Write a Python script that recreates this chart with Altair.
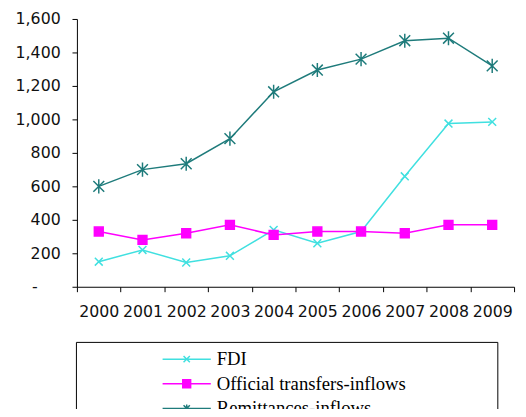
import altair as alt
import pandas as pd

years = [str(y) for y in range(2000, 2010)]
fdi = [150, 220, 145, 185, 340, 260, 330, 660, 975, 985]
official = [330, 280, 320, 370, 310, 330, 330, 320, 370, 370]
remittances = [600, 700, 735, 885, 1165, 1295, 1360, 1470, 1485, 1320]
series = ["FDI", "Official transfers-inflows", "Remittances-inflows"]
colors = ["#40e0e0", "#ff00ff", "#1e7b7b"]
fills = ["transparent", "#ff00ff", "transparent"]
shapes = ["M-1,-1L1,1M-1,1L1,-1", "square", "M-1,-1L1,1M-1,1L1,-1M0,-1.3L0,1.3"]
sizes = [64, 81, 121]

rows = []
for name, vals in zip(series, [fdi, official, remittances]):
    for yr, v in zip(years, vals):
        rows.append({"year": yr, "value": v, "series": name})
df = pd.DataFrame(rows)

x_enc = alt.X(
    "year:O",
    scale=alt.Scale(type="band", paddingInner=0, paddingOuter=0),
    axis=alt.Axis(
        title=None, labelAngle=0, tickBand="extent", domainColor="black",
        tickColor="black", tickSize=5, labelFont="DejaVu Sans", labelFontSize=16,
        labelColor="#111111", labelPadding=12, grid=False,
    ),
)
y_enc = alt.Y(
    "value:Q",
    scale=alt.Scale(domain=[0, 1600], nice=False),
    axis=alt.Axis(
        title=None, values=list(range(0, 1601, 200)), domainColor="black",
        tickColor="black", tickSize=5, labelFont="DejaVu Sans", labelFontSize=16,
        labelColor="#111111", labelPadding=12, grid=False,
        labelExpr="datum.value == 0 ? '-\u2800\u2800' : format(datum.value, ',')",
    ),
)

shape_sig = (
    "datum.value === 'FDI' ? 'M-3.06,0L3.06,0M-0.4,-0.4L0.4,0.4M-0.4,0.4L0.4,-0.4' : "
    "datum.value === 'Official transfers-inflows' ? 'M-3.06,0L3.06,0M-0.5,-0.5L0.5,-0.5L0.5,0.5L-0.5,0.5Z' : "
    "'M-3.06,0L3.06,0M-0.4,-0.4L0.4,0.4M-0.4,0.4L0.4,-0.4M0,-0.5L0,0.5'"
)
fill_sig = "datum.value === 'Official transfers-inflows' ? '#ff00ff' : 'transparent'"

lines = alt.Chart(df).mark_line(strokeWidth=1.5).encode(
    x=x_enc,
    y=y_enc,
    color=alt.Color(
        "series:N",
        scale=alt.Scale(domain=series, range=colors),
        legend=alt.Legend(
            title="MMMMM", titleOrient="left", titleFont="Liberation Serif",
            titleFontSize=16, titlePadding=19, titleOpacity=0,
            orient="none", legendX=-1, legendY=328, direction="vertical",
            symbolSize=256, symbolStrokeWidth=1.5, labelFont="Liberation Serif",
            labelFontSize=19, labelColor="black", strokeColor="black", padding=8,
            rowPadding=5, labelOffset=21, labelLimit=600,
            labelExpr="datum.label + '" + "\u2800" * 6 + "'",
            symbolType={"expr": shape_sig},
            symbolFillColor={"expr": fill_sig},
            symbolOpacity=1,
        ),
    ),
)

layers = [lines]
for name, col, fl, shp, sz in zip(series, colors, fills, shapes, sizes):
    layers.append(
        alt.Chart(df).transform_filter(alt.datum.series == name)
        .mark_point(strokeWidth=1.5, opacity=1, shape=shp, size=sz, stroke=col, fill=fl, filled=False)
        .encode(x=x_enc, y=y_enc)
    )

chart = alt.layer(*layers).properties(
    width=444, height=272,
    padding={"left": 70, "top": 8, "right": 4, "bottom": 121},
    autosize=alt.AutoSizeParams(type="none"),
).configure_view(stroke=None)

chart.save("out.html", embed_options={"renderer": "svg", "actions": False})
